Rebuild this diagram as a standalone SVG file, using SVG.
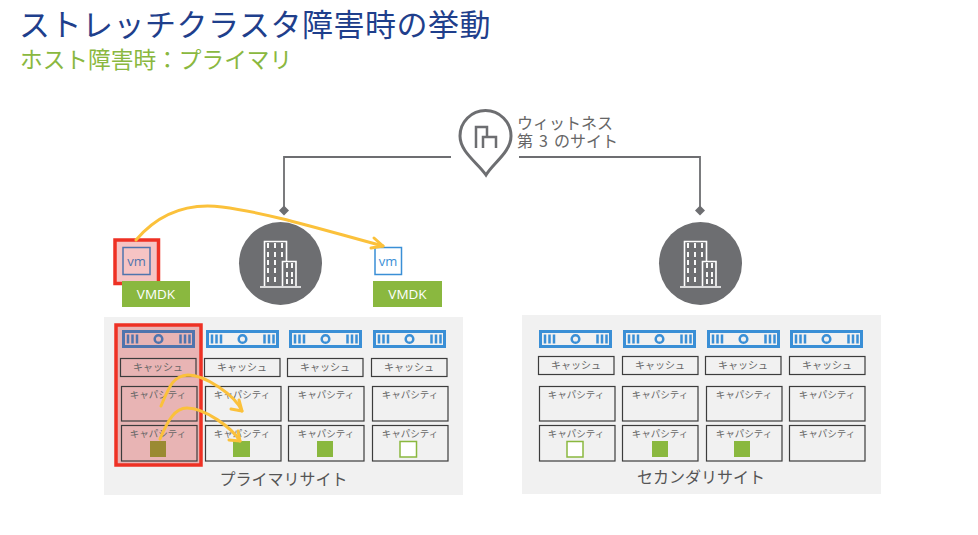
<svg xmlns="http://www.w3.org/2000/svg" width="978" height="535" viewBox="0 0 978 535">
<style>
text{font-family:"Noto Sans CJK JP","Noto Sans",sans-serif}
.lbl{font-size:10px;fill:#666;text-anchor:middle}
.cap{font-size:9.500px;fill:#666;text-anchor:middle}
.box{fill:none;stroke:#3c3c3c;stroke-width:1.200}
.site{fill:#f1f1f1}
.conn{fill:none;stroke:#6d6e71;stroke-width:1.800}
.mv{fill:none;stroke:#fbc13b;stroke-width:3;stroke-linecap:round}
.vmdk{fill:#8ab83f}
.vmdkt{font-family:"Open Sans",sans-serif;font-size:13.500px;fill:#fff;text-anchor:middle}
.vmt{font-family:"Open Sans",sans-serif;font-size:13px;text-anchor:middle;fill:#3a8fd6}
.red{fill:none;stroke:#ee3124;stroke-width:3.500}
.tint{fill:#e8b4b4}
</style>
<defs>
<g id="srv">
<rect x="1.500" y="1.500" width="70" height="15" fill="none" stroke="currentColor" stroke-width="3"/>
<path d="M6 4.500v9M10.500 4.500v9M15 4.500v9M58.500 4.500v9M63 4.500v9M67.500 4.500v9" stroke="currentColor" stroke-width="2.500" fill="none"/>
<circle cx="36.500" cy="9" r="3.800" fill="none" stroke="currentColor" stroke-width="2.500"/>
</g>
<g id="bld">
<circle cx="41.500" cy="41.500" r="41.500" fill="#6d6e71"/>
<path d="M21 65h41M25.500 64V19.500H47.500V39M43.500 64V39.500H57V64" fill="none" stroke="#fff" stroke-width="1.600"/>
<path d="M29 21v5M36 21v5M43 21v5M29 30v5M36 30v5M43 30v5M29 38v5M36 38v5M29 46v5M36 46v5M29 55v5M36 55v5M48 41v5M53 41v5M48 50v5M53 50v5M48 57v5M53 57v5" stroke="#fff" stroke-width="1.900" fill="none"/>
</g>
</defs>
<rect width="978" height="535" fill="#fff"/>

<text x="19" y="36.300" font-size="31" letter-spacing="0.500" fill="#1f3f8c">ストレッチクラスタ障害時の挙動</text>
<text x="20" y="68" font-size="22.700" fill="#8ab83f">ホスト障害時：プライマリ</text>

<g id="connectors">
<path class="conn" d="M451 157H284V208"/>
<path class="conn" d="M519 157H700V208"/>
<path d="M284 205.500l5 5-5 5-5-5z" fill="#6d6e71"/>
<path d="M700 205.500l5 5-5 5-5-5z" fill="#6d6e71"/>
</g>

<g id="witness">
<path d="M486 175 C478 163 460 152 460 136 A25.500 25.500 0 0 1 511 136 C511 152 493 163 486 175Z" fill="#fff" stroke="#6d6e71" stroke-width="3"/>
<path d="M476 148V127H487V137H496V148M487 137H483V148" fill="none" stroke="#6d6e71" stroke-width="2.500"/>
<text x="517" y="129" font-size="16" fill="#666">ウィットネス</text>
<text x="517" y="147" font-size="16" fill="#666" word-spacing="2.500">第 3 のサイト</text>
</g>

<g id="building-primary"><use href="#bld" x="239" y="222"/></g>
<g id="building-secondary"><use href="#bld" x="659" y="222"/></g>

<g id="vm-failed">
<rect x="115" y="240" width="43.500" height="43.500" fill="#f6c4c4" stroke="#ee3124" stroke-width="3.500"/>
<rect x="123" y="247.500" width="27" height="27" fill="none" stroke="#4f74ad" stroke-width="1.500"/>
<text x="136.500" y="265.500" class="vmt" style="fill:#4f74ad">vm</text>
</g>
<g id="vmdk-1"><rect class="vmdk" x="122" y="281" width="68" height="26"/><text class="vmdkt" x="156" y="299">VMDK</text></g>
<g id="vm-new">
<rect x="375" y="247.500" width="26.500" height="27" fill="#fff" stroke="#3a8fd6" stroke-width="1.500"/>
<text x="388" y="266" class="vmt">vm</text>
</g>
<g id="vmdk-2"><rect class="vmdk" x="373" y="281" width="69" height="26"/><text class="vmdkt" x="407.500" y="299">VMDK</text></g>

<g id="site-primary">
<rect class="site" x="104" y="317" width="359" height="178"/>
<rect class="tint" x="116" y="325" width="85" height="140"/>
<use href="#srv" x="122" y="330" color="#4f74ad"/>
<use href="#srv" x="206" y="330" color="#3a8fd6"/>
<use href="#srv" x="289" y="330" color="#3a8fd6"/>
<use href="#srv" x="373" y="330" color="#3a8fd6"/>
<g>
<rect class="box" x="120.500" y="358.500" width="75.500" height="18"/><text class="lbl" x="158" y="371">キャッシュ</text>
<rect class="box" x="204.500" y="358.500" width="75.500" height="18"/><text class="lbl" x="242" y="371">キャッシュ</text>
<rect class="box" x="287.500" y="358.500" width="75.500" height="18"/><text class="lbl" x="325" y="371">キャッシュ</text>
<rect class="box" x="371.500" y="358.500" width="75.500" height="18"/><text class="lbl" x="409" y="371">キャッシュ</text>
</g>
<g>
<rect class="box" x="121.500" y="386.500" width="75.500" height="34.500"/><text class="cap" x="158" y="398">キャパシティ</text>
<rect class="box" x="205.500" y="386.500" width="75.500" height="34.500"/><text class="cap" x="242" y="398">キャパシティ</text>
<rect class="box" x="288.500" y="386.500" width="75.500" height="34.500"/><text class="cap" x="326" y="398">キャパシティ</text>
<rect class="box" x="372.500" y="386.500" width="75.500" height="34.500"/><text class="cap" x="410" y="398">キャパシティ</text>
</g>
<g>
<rect class="box" x="121.500" y="425.500" width="75.500" height="35.500"/><text class="cap" x="158" y="437">キャパシティ</text>
<rect class="box" x="205.500" y="425.500" width="75.500" height="35.500"/><text class="cap" x="242" y="437">キャパシティ</text>
<rect class="box" x="288.500" y="425.500" width="75.500" height="35.500"/><text class="cap" x="326" y="437">キャパシティ</text>
<rect class="box" x="372.500" y="425.500" width="75.500" height="35.500"/><text class="cap" x="410" y="437">キャパシティ</text>
</g>
<rect x="150" y="441" width="16" height="16" fill="#9a8a32"/>
<rect x="233" y="441" width="17" height="16" fill="#8ab83f"/>
<rect x="317" y="441" width="16" height="16" fill="#8ab83f"/>
<rect x="400" y="441.500" width="16.500" height="15.500" fill="#fff" stroke="#8ab83f" stroke-width="1.500"/>
<rect class="red" x="116" y="325" width="85" height="140"/>
<text x="283.500" y="485" font-size="16" fill="#555" text-anchor="middle">プライマリサイト</text>
</g>

<g id="site-secondary">
<rect class="site" x="522" y="315" width="359" height="179"/>
<use href="#srv" x="539" y="330" color="#3a8fd6"/>
<use href="#srv" x="623" y="330" color="#3a8fd6"/>
<use href="#srv" x="707" y="330" color="#3a8fd6"/>
<use href="#srv" x="790" y="330" color="#3a8fd6"/>
<g>
<rect class="box" x="538.500" y="356.500" width="75.500" height="18"/><text class="lbl" x="576" y="369">キャッシュ</text>
<rect class="box" x="622.500" y="356.500" width="75.500" height="18"/><text class="lbl" x="660" y="369">キャッシュ</text>
<rect class="box" x="705.500" y="356.500" width="75.500" height="18"/><text class="lbl" x="743" y="369">キャッシュ</text>
<rect class="box" x="789.500" y="356.500" width="75.500" height="18"/><text class="lbl" x="827" y="369">キャッシュ</text>
</g>
<g>
<rect class="box" x="539.500" y="386.500" width="75.500" height="34.500"/><text class="cap" x="576" y="398">キャパシティ</text>
<rect class="box" x="622.500" y="386.500" width="75.500" height="34.500"/><text class="cap" x="660" y="398">キャパシティ</text>
<rect class="box" x="706.500" y="386.500" width="75.500" height="34.500"/><text class="cap" x="744" y="398">キャパシティ</text>
<rect class="box" x="789.500" y="386.500" width="75.500" height="34.500"/><text class="cap" x="827" y="398">キャパシティ</text>
</g>
<g>
<rect class="box" x="539.500" y="425.500" width="75.500" height="35.500"/><text class="cap" x="576" y="437">キャパシティ</text>
<rect class="box" x="622.500" y="425.500" width="75.500" height="35.500"/><text class="cap" x="660" y="437">キャパシティ</text>
<rect class="box" x="706.500" y="425.500" width="75.500" height="35.500"/><text class="cap" x="744" y="437">キャパシティ</text>
<rect class="box" x="789.500" y="425.500" width="75.500" height="35.500"/><text class="cap" x="827" y="437">キャパシティ</text>
</g>
<rect x="567" y="441.500" width="16" height="15.500" fill="#fff" stroke="#8ab83f" stroke-width="1.500"/>
<rect x="652" y="441" width="16" height="16" fill="#8ab83f"/>
<rect x="734" y="441" width="16" height="16" fill="#8ab83f"/>
<text x="701" y="483" font-size="16" fill="#555" text-anchor="middle">セカンダリサイト</text>
</g>

<g id="moves">
<path class="mv" d="M136 240C160 212 190 203 222 207C270 213 330 232 383 246"/>
<path class="mv" d="M383 246l-9-8M383 246l-12 2"/>
<path class="mv" d="M161 406C170 384 174 376 188 375C205 375 235 395 242 411"/>
<path class="mv" d="M242 411l-3-11M242 411l-11-2"/>
<path class="mv" d="M160 439C168 420 175 408 187 408C205 408 232 428 240 441"/>
<path class="mv" d="M240 441l-2-10M240 441l-11-1"/>
</g>
</svg>
